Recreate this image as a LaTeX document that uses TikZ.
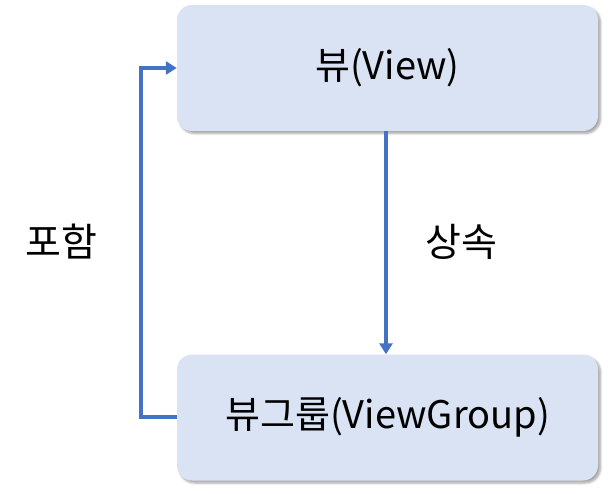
\documentclass[tikz,border=0pt]{standalone}
\usepackage{fontspec}
\setmainfont{Noto Sans CJK KR}
\usetikzlibrary{arrows.meta,shadows.blur}
\definecolor{boxfill}{HTML}{DAE3F3}
\definecolor{linec}{HTML}{4472C4}
\begin{document}
\begin{tikzpicture}[x=1pt,y=-1pt,
  box/.style={draw=none,fill=boxfill,rounded corners=15pt,minimum width=421pt,minimum height=126pt,inner sep=0pt,
    blur shadow={shadow xshift=2.5pt,shadow yshift=-2.5pt,shadow blur steps=6,shadow opacity=35},font=\fontsize{38}{44}\selectfont},
  conn/.style={draw=linec,line width=3.5pt,-{Triangle[length=11pt,width=13pt]}},
  lbl/.style={font=\fontsize{39}{44}\selectfont}]
\useasboundingbox (0,0) rectangle (612,494);
\node[box] (view) at (387.5,68) {뷰(View)};
\node[box] (group) at (387.5,417.5) {뷰그룹(ViewGroup)};
\draw[conn] (view.south -| 386,0) -- (group.north -| 386,0);
\coordinate (c1) at (141,417);
\draw[conn] (group.west |- 0,417) -- (c1) -- (141,68) -- (view.west |- 0,68);
\node[lbl] (inh) at (461,242) {상속};
\node[lbl] (inc) at (61,242) {포함};
\end{tikzpicture}
\end{document}
